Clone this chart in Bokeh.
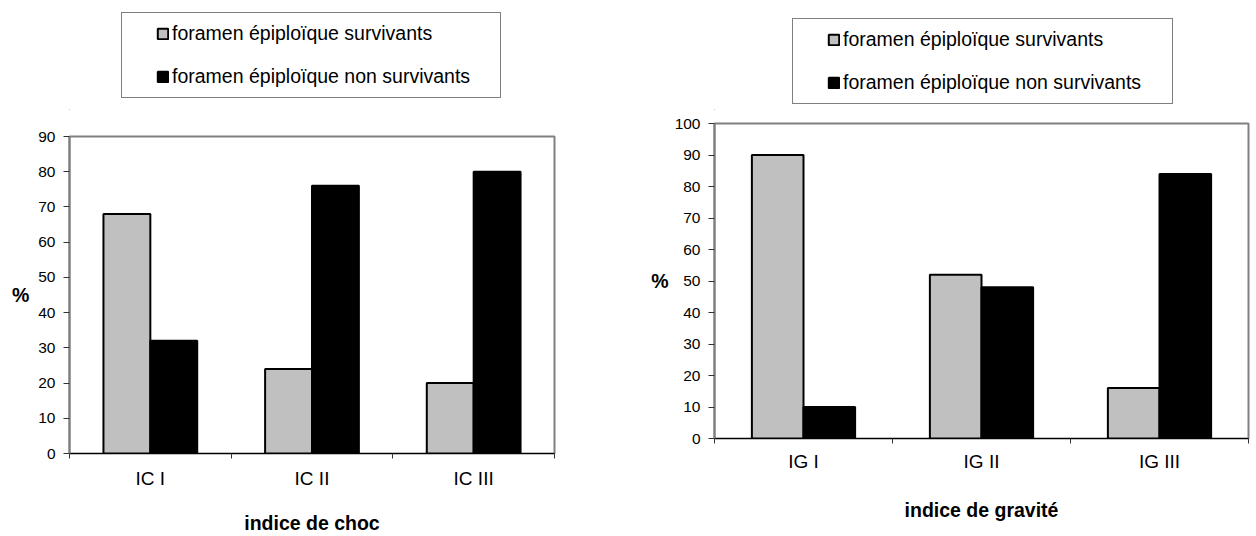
from bokeh.plotting import figure
from bokeh.models import (Range1d, FixedTicker, Legend, LegendItem, ColumnDataSource, LinearAxis)
from bokeh.transform import dodge
from bokeh.layouts import row, column
from bokeh.embed import file_html
from bokeh.resources import INLINE

# ---- data ----
series_names = ["foramen épiploïque survivants", "foramen épiploïque non survivants"]

choc_categories = ["IC I", "IC II", "IC III"]
choc_survivants = [68, 24, 20]
choc_non_survivants = [32, 76, 80]

grav_categories = ["IG I", "IG II", "IG III"]
grav_survivants = [90, 52, 16]
grav_non_survivants = [10, 48, 84]

choc_yticks = list(range(0, 91, 10))
grav_yticks = list(range(0, 101, 10))

FONT = "Liberation Sans"
GREY = "#C0C0C0"
LEG_H = 110
LEG_BOX_H = 86


def legend_fig(width, bl, br, leg_xy, label_width):
    f = figure(width=width, height=LEG_H, output_backend="svg", toolbar_location=None,
               x_range=Range1d(0, 1), y_range=Range1d(0, 1),
               min_border_left=bl, min_border_right=br, min_border_top=0, min_border_bottom=0,
               x_axis_location=None, y_axis_location=None)
    f.grid.visible = False
    f.outline_line_color = None
    # legend proxies (kept outside the visible range)
    proxy = ColumnDataSource(dict(x=[-5], top=[0]))
    g1 = f.vbar(x="x", top="top", width=0.1, source=proxy,
                fill_color=GREY, line_color="black", line_width=2)
    g2 = f.vbar(x="x", top="top", width=0.1, source=proxy,
                fill_color="black", line_color="black", line_width=2)
    leg = Legend(items=[LegendItem(label=series_names[0], renderers=[g1]),
                        LegendItem(label=series_names[1], renderers=[g2])],
                 location=leg_xy, orientation="vertical",
                 title=" ", title_location="left", title_text_font_size="1px",
                 title_standoff=24,
                 padding=9, spacing=20, margin=0,
                 glyph_width=13, glyph_height=13,
                 label_height=21, label_width=label_width, label_standoff=3,
                 label_text_font=FONT, label_text_font_size="19.5px", label_text_color="black",
                 border_line_color="black", border_line_width=1,
                 background_fill_color="white", background_fill_alpha=1.0)
    f.add_layout(leg, "center")
    return f


def make_chart(cats, surv, nonsurv, yticks, xtitle, width, height,
               bl, br, bt, bb, lab_so, title_so, ylab_so):
    n = len(cats)
    src = ColumnDataSource(dict(
        xc=[i + 0.5 for i in range(n)],
        surv=surv,
        nonsurv=nonsurv,
    ))
    p = figure(width=width, height=height, output_backend="svg", toolbar_location=None,
               x_range=Range1d(0, n), y_range=Range1d(yticks[0], yticks[-1]),
               min_border_left=bl, min_border_right=br, min_border_top=bt, min_border_bottom=bb,
               x_axis_location=None, y_axis_location=None)
    p.grid.visible = False
    p.outline_line_color = "#808080"
    p.outline_line_width = 2

    p.vbar(x=dodge("xc", -0.145), top="surv", width=0.29, bottom=0, source=src,
           fill_color=GREY, line_color="black", line_width=2)
    p.vbar(x=dodge("xc", 0.145), top="nonsurv", width=0.29, bottom=0, source=src,
           fill_color="black", line_color="black", line_width=2)

    # x axis: labels at centres, small ticks at category boundaries
    xa = LinearAxis(ticker=FixedTicker(ticks=[i + 0.5 for i in range(n)],
                                        minor_ticks=list(range(n + 1))))
    xa.major_label_overrides = {i + 0.5: c for i, c in enumerate(cats)}
    xa.major_tick_line_color = None
    xa.major_tick_out = 0
    xa.major_tick_in = 0
    xa.minor_tick_line_color = "#333333"
    xa.minor_tick_out = 5
    xa.minor_tick_in = 0
    xa.axis_line_color = "black"
    xa.axis_line_width = 1
    xa.major_label_text_font = FONT
    xa.major_label_text_font_size = "19px"
    xa.major_label_text_color = "black"
    xa.major_label_standoff = lab_so
    xa.axis_label = xtitle
    xa.axis_label_text_font = FONT
    xa.axis_label_text_font_size = "19.5px"
    xa.axis_label_text_font_style = "bold"
    xa.axis_label_text_color = "black"
    xa.axis_label_standoff = title_so
    p.add_layout(xa, "below")

    ya = LinearAxis(ticker=FixedTicker(ticks=yticks))
    ya.axis_line_color = "#808080"
    ya.axis_line_width = 2
    ya.major_tick_line_color = "#333333"
    ya.major_tick_out = 6
    ya.major_tick_in = 0
    ya.minor_tick_line_color = None
    ya.major_label_text_font = FONT
    ya.major_label_text_font_size = "15.5px"
    ya.major_label_text_color = "black"
    ya.major_label_standoff = 8
    ya.axis_label = "%"
    ya.axis_label_orientation = "horizontal"
    ya.axis_label_text_font = FONT
    ya.axis_label_text_font_size = "19.5px"
    ya.axis_label_text_font_style = "bold"
    ya.axis_label_text_color = "black"
    ya.axis_label_standoff = ylab_so
    p.add_layout(ya, "left")
    return p


CH = 536 - LEG_H
left_leg = legend_fig(620, 69, 66, (52, LEG_H - 12 - LEG_BOX_H), 319)
left = make_chart(choc_categories, choc_survivants, choc_non_survivants, choc_yticks,
                  "indice de choc", 620, CH, 69, 66, 136 - LEG_H, 81, 9, 20, 6)
right_leg = legend_fig(636, 94, 8, (78, LEG_H - 18 - LEG_BOX_H), 320)
right = make_chart(grav_categories, grav_survivants, grav_non_survivants, grav_yticks,
                   "indice de gravité", 636, CH, 94, 8, 123 - LEG_H, 98, 7, 24, 3)

layout = row(column(left_leg, left, spacing=0), column(right_leg, right, spacing=0), spacing=0)
open("out.html", "w").write(file_html(layout, INLINE))
